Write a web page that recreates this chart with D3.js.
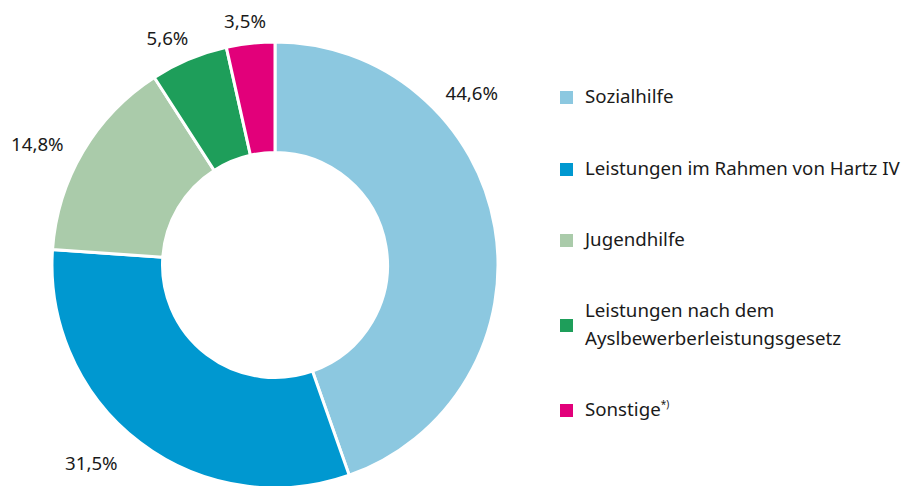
<!DOCTYPE html>
<html><head><meta charset="utf-8">
<script src="https://cdn.jsdelivr.net/npm/d3@7"></script>
<style>body{margin:0;background:#fff}svg{display:block}text{font-family:"Noto Sans",sans-serif;fill:#1a1a1a}</style>
</head><body>
<svg id="c" width="903" height="486"></svg>
<script>
const categories = ["Sozialhilfe","Leistungen im Rahmen von Hartz IV","Jugendhilfe","Leistungen nach dem Ayslbewerberleistungsgesetz","Sonstige"];
const values = [44.6, 31.5, 14.8, 5.6, 3.5];
const valueLabels = ["44,6%","31,5%","14,8%","5,6%","3,5%"];
const colors = ["#8cc8e0","#0098d0","#aacbaa","#1e9e5a","#e2007a"];
const legendLines = [["Sozialhilfe"],["Leistungen im Rahmen von Hartz IV"],["Jugendhilfe"],["Leistungen nach dem","Ayslbewerberleistungsgesetz"],["Sonstige"]];

const svg = d3.select("#c");
const cx = 275, cy = 265, rOuter = 223, rInner = 112.5;
const pie = d3.pie().value(d => d).sort(null);
const arcs = pie(values);
const arc = d3.arc().innerRadius(rInner).outerRadius(rOuter);
const g = svg.append("g").attr("transform", `translate(${cx},${cy})`);
g.selectAll("path").data(arcs).join("path")
  .attr("d", arc).attr("fill", (d,i) => colors[i])
  .attr("stroke", "#fff").attr("stroke-width", 3).attr("stroke-linejoin","miter");

// label placement tweaks (degrees shift, radius)
const labelTweak = [{da:-31.6, r:262},{da:5.6, r:270},{da:-3.5, r:267},{da:-2.6, r:252},{da:-0.7, r:246}];
g.selectAll("text.v").data(arcs).join("text").attr("class","v")
  .attr("font-size", 18.7)
  .attr("text-anchor","middle").attr("dominant-baseline","central")
  .attr("x", (d,i) => { const a = (d.startAngle+d.endAngle)/2 + labelTweak[i].da*Math.PI/180; return Math.sin(a)*labelTweak[i].r; })
  .attr("y", (d,i) => { const a = (d.startAngle+d.endAngle)/2 + labelTweak[i].da*Math.PI/180; return -Math.cos(a)*labelTweak[i].r; })
  .text((d,i) => valueLabels[i]);

// legend
const legY = [104, 176, 247, 332, 417];
const lg = svg.append("g");
categories.forEach((c,i) => {
  const row = lg.append("g");
  row.append("rect").attr("x",560).attr("y",legY[i]-13).attr("width",13).attr("height",13).attr("fill",colors[i]);
  const lines = legendLines[i];
  const t = row.append("text").attr("font-size",18.7);
  lines.forEach((ln,j) => {
    t.append("tspan").attr("x",585).attr("y", legY[i] - 1 - (lines.length-1)*14 + j*28).text(ln);
  });
  if (i === 4) {
    t.append("tspan").attr("dy",-8).attr("font-size",10).text("*)");
  }
});
</script>
</body></html>
